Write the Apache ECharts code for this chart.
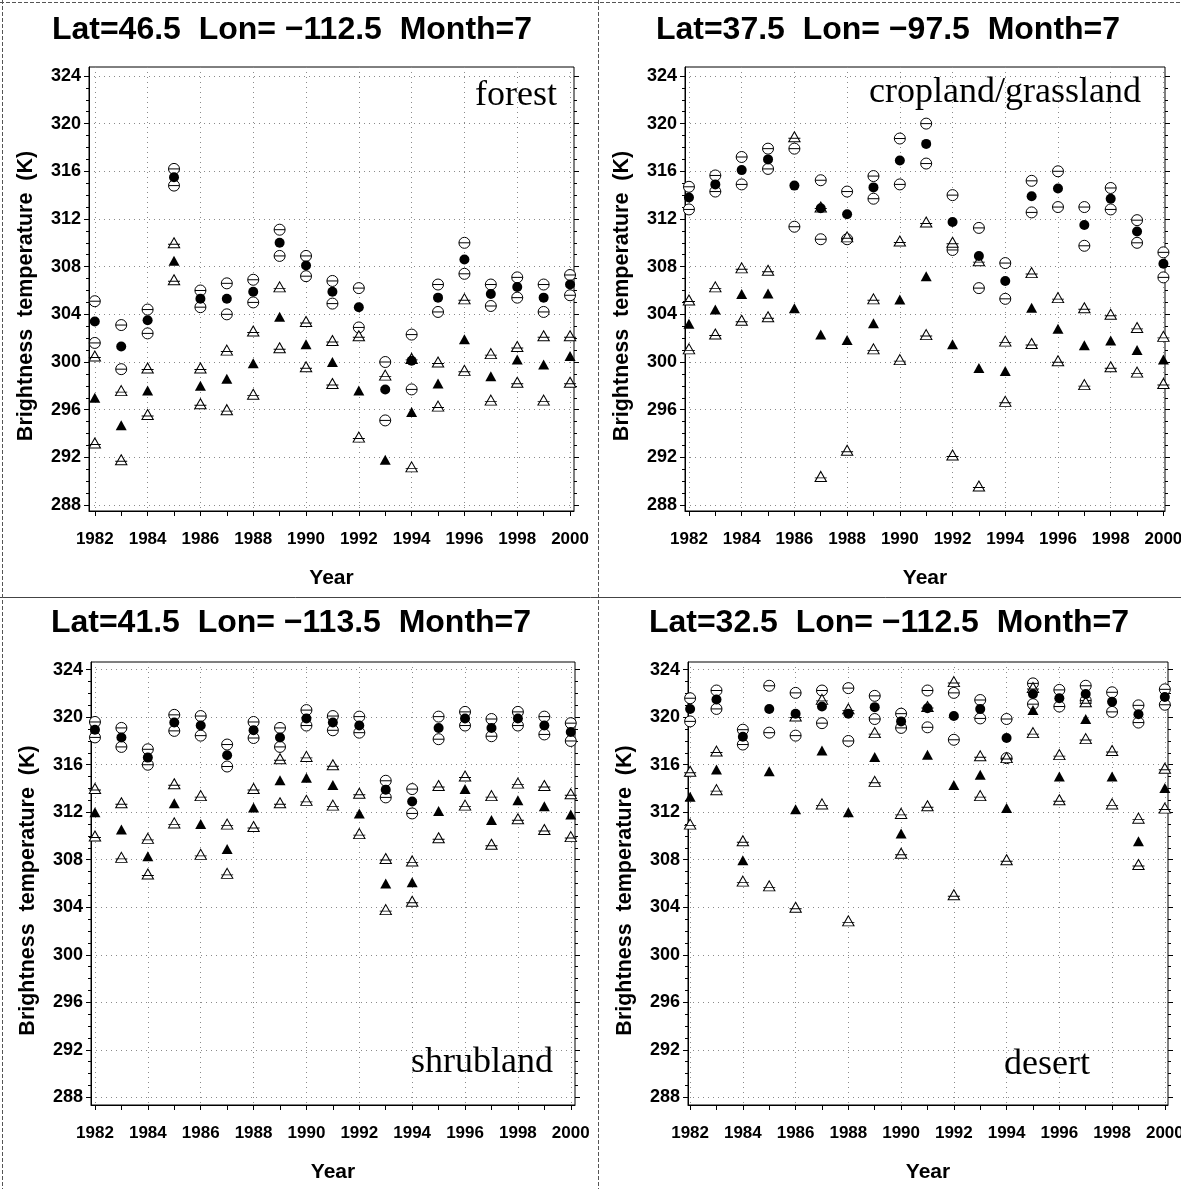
<!DOCTYPE html>
<html>
<head>
<meta charset="utf-8">
<title>Brightness temperature by year</title>
<script src="https://cdn.jsdelivr.net/npm/echarts@6/dist/echarts.min.js"></script>
<style>
  html, body { margin: 0; padding: 0; background: #fff; }
  #chart { width: 1181px; height: 1189px; }
</style>
</head>
<body>
<div id="chart"></div>
<script>
// ---- data ----
const years = [1982, 1983, 1984, 1985, 1986, 1987, 1988, 1989, 1990, 1991,
  1992, 1993, 1994, 1995, 1996, 1997, 1998, 1999, 2000]
const evenYears = [1982, 1984, 1986, 1988, 1990, 1992, 1994, 1996, 1998, 2000]
const oddYears = [1983, 1985, 1987, 1989, 1991, 1993, 1995, 1997, 1999]
const yTicks = [288, 292, 296, 300, 304, 308, 312, 316, 320, 324]
const yMinorTicks = [289, 290, 291, 293, 294, 295, 297, 298, 299, 301, 302, 303,
  305, 306, 307, 309, 310, 311, 313, 314, 315, 317, 318, 319, 321, 322, 323]

// forest
const forestCircHi = [305.1, 303.1, 304.4, 316.2, 306.0, 306.6, 306.9, 311.1, 308.9, 306.8, 306.2, 300.0, 302.3, 306.5, 310.0, 306.5, 307.1, 306.5, 307.3]
const forestCircMean = [303.4, 301.3, 303.5, 315.5, 305.3, 305.3, 305.9, 310.0, 308.1, 305.9, 304.6, 297.7, 300.1, 305.4, 308.6, 305.7, 306.3, 305.4, 306.5]
const forestCircLo = [301.6, 299.4, 302.4, 314.8, 304.6, 304.0, 305.0, 308.9, 307.2, 304.9, 302.9, 295.1, 297.7, 304.2, 307.4, 304.7, 305.4, 304.2, 305.6]
const forestTriHi = [300.5, 297.6, 299.5, 310.0, 299.5, 301.0, 302.6, 306.3, 303.4, 301.8, 302.2, 298.9, 300.3, 300.0, 305.3, 300.7, 301.3, 302.2, 302.2]
const forestTriMean = [297.0, 294.7, 297.6, 308.5, 298.0, 298.6, 299.9, 303.8, 301.5, 300.0, 297.6, 291.8, 295.8, 298.2, 301.9, 298.8, 300.2, 299.8, 300.5]
const forestTriLo = [293.2, 291.8, 295.6, 306.9, 296.5, 296.0, 297.3, 301.2, 299.6, 298.2, 293.7, null, 291.2, 296.3, 299.3, 296.8, 298.3, 296.8, 298.3]

// cropland/grassland
const cropCircHi = [314.7, 315.65, 317.2, 317.9, 317.9, 315.25, 314.3, 315.6, 318.75, 320.0, 314.0, 311.25, 308.3, 315.2, 316.0, 313.0, 314.6, 311.9, 309.2]
const cropCircMean = [313.8, 314.9, 316.1, 317.0, 314.8, 312.9, 312.4, 314.65, 316.9, 318.3, 311.75, 308.9, 306.8, 313.9, 314.55, 311.5, 313.7, 310.95, 308.25]
const cropCircLo = [312.8, 314.3, 314.9, 316.2, 311.35, 310.3, 310.3, 313.7, 314.9, 316.65, 309.4, 306.2, 305.3, 312.55, 313.0, 309.75, 312.8, 310.0, 307.1]
const cropTriHi = [305.2, 306.3, 307.9, 307.7, 318.9, 313.0, 310.5, 305.3, 310.15, 311.75, 310.05, 308.5, 301.75, 307.5, 305.4, 304.55, 304.0, 302.9, 302.15]
const cropTriMean = [303.2, 304.4, 305.7, 305.75, 304.5, 302.3, 301.85, 303.25, 305.25, 307.2, 301.5, 299.5, 299.25, 304.55, 302.8, 301.4, 301.8, 301.0, 300.2]
const cropTriLo = [301.1, 302.35, 303.5, 303.8, null, 290.4, 292.6, 301.1, 300.2, 302.3, 292.2, 289.6, 296.7, 301.55, 300.1, 298.1, 299.6, 299.15, 298.2]

// shrubland
const shrubCircHi = [319.6, 319.1, 317.3, 320.2, 320.1, 317.7, 319.6, 319.1, 320.6, 320.1, 320.05, 314.65, 313.95, 320.05, 320.45, 319.85, 320.45, 320.05, 319.5]
const shrubCircMean = [318.95, 318.3, 316.6, 319.55, 319.3, 316.8, 318.9, 318.3, 319.9, 319.55, 319.3, 313.9, 312.9, 319.1, 319.9, 319.1, 319.9, 319.3, 318.75]
const shrubCircLo = [318.3, 317.5, 316.0, 318.85, 318.45, 315.85, 318.25, 317.5, 319.3, 318.9, 318.7, 313.25, 311.9, 318.15, 319.3, 318.4, 319.3, 318.55, 318.0]
const shrubTriHi = [314.0, 312.8, 309.8, 314.4, 313.4, 311.0, 314.0, 316.5, 316.7, 316.0, 313.6, 308.1, 307.9, 314.25, 315.05, 313.4, 314.45, 314.25, 313.55]
const shrubTriMean = [312.0, 310.55, 308.3, 312.75, 311.0, 308.9, 312.4, 314.7, 314.9, 314.3, 311.9, 306.0, 306.1, 312.1, 313.95, 311.35, 313.0, 312.5, 311.8]
const shrubTriLo = [310.0, 308.2, 306.8, 311.1, 308.45, 306.85, 310.8, 312.8, 313.0, 312.6, 310.2, 303.8, 304.5, 309.85, 312.6, 309.3, 311.45, 310.55, 309.95]

// desert
const desertCircHi = [321.6, 322.25, 318.95, 322.65, 322.05, 322.25, 322.45, 321.8, 320.3, 322.25, 322.05, 321.45, 319.85, 322.85, 322.3, 322.65, 322.1, 321.0, 322.35]
const desertCircMean = [320.7, 321.5, 318.35, 320.7, 320.3, 320.9, 320.3, 320.85, 319.65, 320.75, 320.1, 320.7, 318.25, 321.95, 321.6, 321.95, 321.3, 320.25, 321.7]
const desertCircLo = [319.65, 320.7, 317.7, 318.7, 318.45, 319.5, 318.0, 319.85, 319.1, 319.15, 318.1, 319.9, 316.55, 321.1, 320.9, 321.4, 320.45, 319.55, 321.05]
const desertTriHi = [315.45, 317.15, 309.6, null, 320.1, 321.5, 320.7, 318.7, 311.9, 320.9, 323.0, 316.75, 316.6, 322.5, 316.85, 321.3, 317.2, 311.5, 315.7]
const desertTriMean = [313.3, 315.6, 307.95, 315.45, 312.25, 317.2, 312.0, 316.65, 310.2, 316.85, 314.3, 315.15, 312.35, 320.6, 315.0, 319.85, 315.0, 309.55, 314.05]
const desertTriLo = [311.0, 313.9, 306.2, 305.8, 304.0, 312.7, 302.85, 314.6, 308.55, 312.55, 305.05, 313.4, 308.0, 318.7, 313.05, 318.2, 312.7, 307.6, 312.35]

const panelTitles = ['Lat=46.5  Lon= \u2212112.5  Month=7', 'Lat=37.5  Lon= \u221297.5  Month=7',
  'Lat=41.5  Lon= \u2212113.5  Month=7', 'Lat=32.5  Lon= \u2212112.5  Month=7']
const panelLabels = ['forest', 'cropland/grassland', 'shrubland', 'desert']

// ---- layout ----
const panels = [
  { grid: { left: 89, top: 67, width: 485, height: 444 }, x: [1981.78, 2000.15], y: [287.5, 324.75],
    title: [292, 30], label: [557, 96],
    data: [forestCircHi, forestCircMean, forestCircLo, forestTriHi, forestTriMean, forestTriLo] },
  { grid: { left: 685, top: 67, width: 480, height: 444 }, x: [1981.85, 2000.06], y: [287.5, 324.75],
    title: [888, 30], label: [1141, 93],
    data: [cropCircHi, cropCircMean, cropCircLo, cropTriHi, cropTriMean, cropTriLo] },
  { grid: { left: 91, top: 662, width: 484, height: 443 }, x: [1981.85, 2000.16], y: [287.35, 324.65],
    title: [291, 623], label: [553, 1063],
    data: [shrubCircHi, shrubCircMean, shrubCircLo, shrubTriHi, shrubTriMean, shrubTriLo] },
  { grid: { left: 688, top: 662, width: 480, height: 443 }, x: [1981.92, 2000.12], y: [287.35, 324.65],
    title: [889, 623], label: [1090, 1065],
    data: [desertCircHi, desertCircMean, desertCircLo, desertTriHi, desertTriMean, desertTriLo] },
]

const SANS = '"Liberation Sans", Arial, Helvetica, sans-serif'
const SERIF = '"Liberation Serif", "Times New Roman", serif'

// 圆圈加横线、三角加横线
const openCircle = 'path://M0,10A10,10,0,1,1,20,10A10,10,0,1,1,0,10ZM0,10L20,10'
const openTriangle = 'path://M10,1L19.5,18L0.5,18ZM0,12L20,12'

// 六种符号：上圈、均值圆点、下圈、上三角、均值三角、下三角
const markers = [
  { symbol: openCircle, size: 11, filled: false },
  { symbol: 'circle', size: 10, filled: true },
  { symbol: openCircle, size: 11, filled: false },
  { symbol: openTriangle, size: [12, 10], filled: false },
  { symbol: 'triangle', size: [11, 10], filled: true },
  { symbol: openTriangle, size: [12, 10], filled: false },
]

const grids = []
const xAxes = []
const yAxes = []
const series = []
const graphics = []

panels.forEach((p, i) => {
  grids.push(Object.assign({
    show: true, borderColor: '#000', borderWidth: 1,
    backgroundColor: 'transparent', containLabel: false, outerBoundsMode: 'none'
  }, p.grid))

  // 主x轴：偶数年标签、刻度、网格线
  xAxes.push({
    gridIndex: i, type: 'value', position: 'bottom', min: p.x[0], max: p.x[1],
    axisLine: { onZero: false, lineStyle: { color: '#000', width: 1 } },
    axisTick: { customValues: evenYears, length: 5, lineStyle: { color: '#000' } },
    axisLabel: {
      customValues: evenYears, margin: 20, color: '#000',
      fontSize: 17, fontWeight: 'bold', fontFamily: SANS,
      formatter: v => String(Math.round(v))
    },
    splitLine: { show: true, lineStyle: { color: '#8a8a8a', type: [1, 4], width: 1 } },
    name: 'Year', nameLocation: 'middle', nameGap: 57,
    nameTextStyle: { color: '#000', fontSize: 21, fontWeight: 'bold', fontFamily: SANS }
  })
  // 奇数年刻度
  xAxes.push({
    gridIndex: i, type: 'value', position: 'bottom', min: p.x[0], max: p.x[1],
    axisLine: { show: false, onZero: false },
    axisTick: { customValues: oddYears, length: 5, lineStyle: { color: '#000' } },
    axisLabel: { show: false }, splitLine: { show: false }
  })

  const yBase = { gridIndex: i, type: 'value', min: p.y[0], max: p.y[1] }
  yAxes.push(Object.assign({}, yBase, {
    position: 'left',
    axisLine: { show: true, onZero: false, lineStyle: { color: '#000', width: 1 } },
    axisTick: { customValues: yTicks, length: 5, lineStyle: { color: '#000' } },
    axisLabel: {
      customValues: yTicks, margin: 8, color: '#000',
      fontSize: 18, fontWeight: 'bold', fontFamily: SANS,
      formatter: v => String(Math.round(v))
    },
    splitLine: { show: true, lineStyle: { color: '#8a8a8a', type: [1, 4], width: 1 } },
    name: 'Brightness  temperature  (K)', nameLocation: 'middle', nameGap: 52,
    nameTextStyle: {
      color: '#000', fontSize: 21.5, fontWeight: 'bold', fontFamily: SANS,
      padding: [0, 14, 0, 0]
    }
  }))
  yAxes.push(Object.assign({}, yBase, {
    position: 'left', axisLine: { show: false },
    axisTick: { customValues: yMinorTicks, length: 3, lineStyle: { color: '#000' } },
    axisLabel: { show: false }, splitLine: { show: false }
  }))
  yAxes.push(Object.assign({}, yBase, {
    position: 'right', axisLine: { show: false },
    axisTick: { customValues: yTicks, length: 5, lineStyle: { color: '#000' } },
    axisLabel: { show: false }, splitLine: { show: false }
  }))
  yAxes.push(Object.assign({}, yBase, {
    position: 'right', axisLine: { show: false },
    axisTick: { customValues: yMinorTicks, length: 3, lineStyle: { color: '#000' } },
    axisLabel: { show: false }, splitLine: { show: false }
  }))

  // 先画空心，再画实心
  const order = [0, 2, 3, 5, 1, 4]
  order.forEach(k => {
    const m = markers[k]
    const vals = p.data[k]
    series.push({
      type: 'scatter', xAxisIndex: i * 2, yAxisIndex: i * 4,
      symbol: m.symbol, symbolSize: m.size,
      data: years.map((yr, j) => [yr, vals[j]]).filter(d => d[1] !== null),
      itemStyle: m.filled
        ? { color: '#000', borderWidth: 0, opacity: 1 }
        : { color: '#fff', borderColor: '#000', borderWidth: 1, opacity: 1 },
      z: m.filled ? 4 : 3, silent: true
    })
  })

  graphics.push({
    type: 'text', x: p.title[0], y: p.title[1], z: 10,
    style: {
      text: panelTitles[i], font: 'bold 32px ' + SANS, fill: '#000',
      textAlign: 'center', align: 'center', textVerticalAlign: 'middle', verticalAlign: 'middle'
    }
  })
  graphics.push({
    type: 'text', x: p.label[0], y: p.label[1], z: 10,
    style: {
      text: panelLabels[i], font: '36px ' + SERIF, fill: '#000',
      textAlign: 'right', align: 'right', textVerticalAlign: 'middle', verticalAlign: 'middle'
    }
  })
})

// 面板分隔线
const frameLine = { stroke: '#555', lineWidth: 1, lineDash: [4, 2] }
graphics.push({ type: 'line', shape: { x1: 598.5, y1: 0, x2: 598.5, y2: 1189 }, style: frameLine, z: 1 })
graphics.push({ type: 'line', shape: { x1: 0, y1: 597.5, x2: 1181, y2: 597.5 }, style: { stroke: '#444', lineWidth: 1 }, z: 1 })
graphics.push({ type: 'line', shape: { x1: 2.5, y1: 0, x2: 2.5, y2: 1189 }, style: frameLine, z: 1 })
graphics.push({ type: 'line', shape: { x1: 0, y1: 2.5, x2: 1181, y2: 2.5 }, style: frameLine, z: 1 })

let myChart = echarts.init(document.getElementById('chart'), null, { renderer: 'canvas' })
myChart.setOption({
  backgroundColor: '#fff',
  animation: false,
  grid: grids,
  xAxis: xAxes,
  yAxis: yAxes,
  series: series,
  graphic: graphics
})
</script>
</body>
</html>
